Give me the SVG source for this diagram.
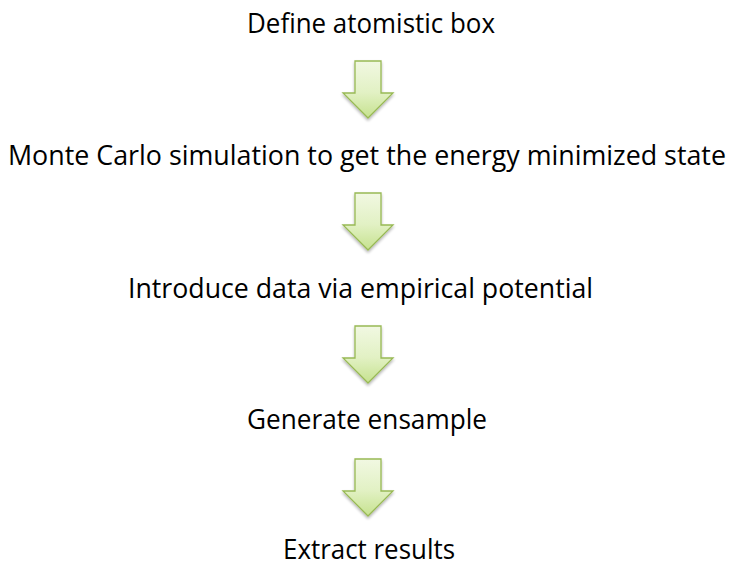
<svg xmlns="http://www.w3.org/2000/svg" width="732" height="567" viewBox="0 0 732 567">
<style>
text{font-family:"Open Sans","Noto Sans","Liberation Sans",sans-serif;font-size:27px;fill:#000;}
.arr{fill:url(#g);stroke:#98b954;stroke-width:1.3;stroke-linejoin:miter;filter:url(#sh);}
</style>
<defs>
<linearGradient id="g" x1="0" y1="0" x2="0" y2="1">
<stop offset="0" stop-color="#f1f8e2"/>
<stop offset="0.55" stop-color="#e2f1c4"/>
<stop offset="1" stop-color="#c6e28f"/>
</linearGradient>
<filter id="sh" x="-30%" y="-30%" width="160%" height="160%">
<feGaussianBlur in="SourceAlpha" stdDeviation="1.5"/>
<feOffset dx="0" dy="1.5" result="b"/>
<feComponentTransfer><feFuncA type="linear" slope="0.3"/></feComponentTransfer>
<feMerge><feMergeNode/><feMergeNode in="SourceGraphic"/></feMerge>
</filter>
<path id="a" d="M-13,0 H13 V32 H25 L0,57 L-25,32 H-13 Z"/>
</defs>
<g id="connectors">
<use href="#a" class="arr" x="368" y="61"/>
<use href="#a" class="arr" x="368" y="193"/>
<use href="#a" class="arr" x="368" y="326"/>
<use href="#a" class="arr" x="368" y="459"/>
</g>
<g id="n1"><text x="247" y="33" textLength="248" lengthAdjust="spacingAndGlyphs">Define atomistic box</text></g>
<g id="n2"><text x="8" y="165" textLength="718" lengthAdjust="spacingAndGlyphs">Monte Carlo simulation to get the energy minimized state</text></g>
<g id="n3"><text x="128" y="298" textLength="465" lengthAdjust="spacingAndGlyphs">Introduce data via empirical potential</text></g>
<g id="n4"><text x="247" y="429" textLength="240" lengthAdjust="spacingAndGlyphs">Generate ensample</text></g>
<g id="n5"><text x="283" y="559" textLength="172" lengthAdjust="spacingAndGlyphs">Extract results</text></g>
</svg>
